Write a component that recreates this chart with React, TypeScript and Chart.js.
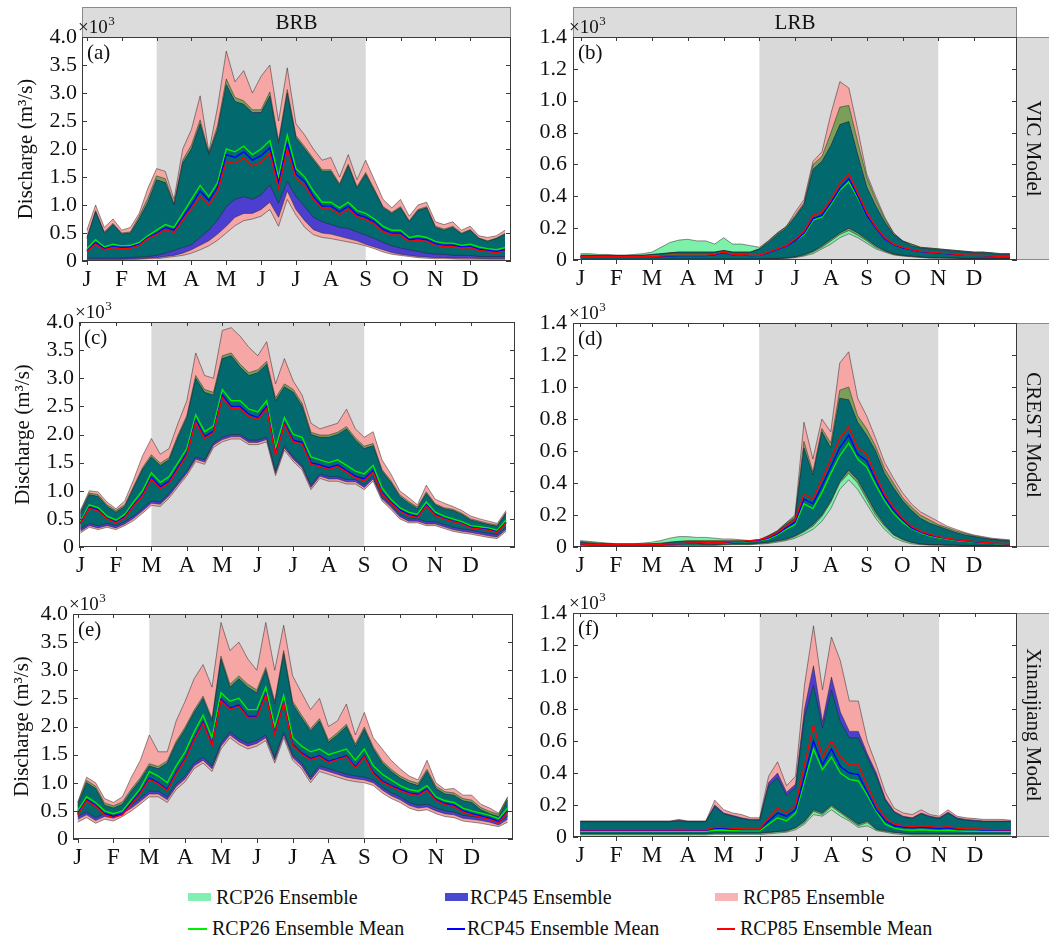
import React, { useEffect, useRef } from 'react';
import { Chart, registerables } from 'chart.js';

Chart.register(...registerables);

const FONT = "'Liberation Serif', 'Times New Roman', Times, serif";

// ---------- categories / ticks ----------
const MONTHS = ['J', 'F', 'M', 'A', 'M', 'J', 'J', 'A', 'S', 'O', 'N', 'D'];
const MONTH_POS = [0, 1, 2, 3, 4, 5, 6, 7, 8, 9, 10, 11];
const Y_TICKS_BRB = [0, 0.5, 1.0, 1.5, 2.0, 2.5, 3.0, 3.5, 4.0];
const Y_TICKS_LRB = [0, 0.2, 0.4, 0.6, 0.8, 1.0, 1.2, 1.4];
// sampling grid: 4 samples per month (month units, Jan 1 = 0)
const X = Array.from({ length: 49 }, (_, k) => k / 4);

const LEGEND_LABELS = ['RCP26 Ensemble', 'RCP45 Ensemble', 'RCP85 Ensemble', 'RCP26 Ensemble Mean', 'RCP45 Ensemble Mean', 'RCP85 Ensemble Mean'];

// ---------- (a) BRB / VIC  (x10^3 m3/s) ----------
const A_H85 = [0.55, 1.0, 0.6, 0.75, 0.55, 0.6, 0.85, 1.3, 1.65, 1.6, 1.1, 2.0, 2.35, 2.95, 1.95, 2.75, 3.75, 3.2, 3.4, 3.0, 3.3, 3.5, 2.5, 3.45, 2.45, 2.25, 2.0, 1.8, 1.85, 1.5, 1.9, 1.45, 1.8, 1.45, 1.1, 0.95, 1.1, 0.8, 1.0, 1.05, 0.7, 0.65, 0.7, 0.55, 0.62, 0.45, 0.42, 0.45, 0.55];
const A_H26 = [0.42, 0.9, 0.52, 0.67, 0.5, 0.52, 0.8, 1.12, 1.52, 1.47, 1.03, 1.8, 2.07, 2.52, 1.93, 2.42, 3.25, 2.92, 2.86, 2.7, 2.7, 3.02, 2.15, 3.06, 2.24, 2.04, 1.83, 1.63, 1.63, 1.38, 1.73, 1.33, 1.58, 1.28, 0.97, 0.87, 0.97, 0.72, 0.92, 0.97, 0.62, 0.57, 0.62, 0.5, 0.56, 0.41, 0.36, 0.41, 0.49];
const A_H45 = [0.4, 0.88, 0.5, 0.65, 0.48, 0.5, 0.75, 1.05, 1.45, 1.4, 1.0, 1.75, 2.0, 2.45, 1.9, 2.35, 3.15, 2.85, 2.8, 2.65, 2.65, 2.95, 2.1, 3.0, 2.2, 2.0, 1.8, 1.6, 1.6, 1.35, 1.7, 1.3, 1.55, 1.25, 0.95, 0.85, 0.95, 0.7, 0.9, 0.95, 0.6, 0.55, 0.6, 0.48, 0.55, 0.4, 0.35, 0.4, 0.48];
const A_L26 = [0.05, 0.05, 0.05, 0.05, 0.05, 0.06, 0.07, 0.08, 0.1, 0.14, 0.19, 0.24, 0.29, 0.42, 0.55, 0.73, 0.97, 1.1, 1.15, 1.1, 1.18, 1.36, 1.03, 1.42, 1.15, 0.97, 0.78, 0.7, 0.65, 0.6, 0.58, 0.52, 0.46, 0.4, 0.33, 0.27, 0.23, 0.2, 0.17, 0.14, 0.12, 0.12, 0.1, 0.1, 0.1, 0.08, 0.08, 0.08, 0.08];
const A_L45 = [0.03, 0.03, 0.03, 0.03, 0.03, 0.035, 0.04, 0.05, 0.06, 0.08, 0.1, 0.14, 0.2, 0.28, 0.36, 0.48, 0.62, 0.78, 0.85, 0.85, 0.92, 1.05, 0.78, 1.25, 0.92, 0.72, 0.56, 0.5, 0.48, 0.44, 0.4, 0.36, 0.3, 0.25, 0.2, 0.15, 0.12, 0.1, 0.08, 0.07, 0.06, 0.06, 0.05, 0.05, 0.05, 0.045, 0.04, 0.04, 0.04];
const A_L85 = [0.02, 0.02, 0.02, 0.02, 0.02, 0.025, 0.03, 0.035, 0.04, 0.06, 0.08, 0.1, 0.14, 0.2, 0.27, 0.37, 0.5, 0.63, 0.72, 0.75, 0.8, 0.92, 0.62, 1.1, 0.82, 0.6, 0.47, 0.42, 0.4, 0.37, 0.34, 0.31, 0.27, 0.22, 0.16, 0.12, 0.1, 0.08, 0.06, 0.05, 0.04, 0.04, 0.035, 0.03, 0.03, 0.03, 0.03, 0.03, 0.03];
const A_M26 = [0.22, 0.38, 0.25, 0.3, 0.27, 0.28, 0.33, 0.45, 0.55, 0.65, 0.6, 0.85, 1.1, 1.35, 1.15, 1.4, 2.0, 1.95, 2.05, 1.9, 2.0, 2.15, 1.5, 2.25, 1.65, 1.5, 1.25, 1.05, 1.05, 0.95, 1.05, 0.9, 0.85, 0.75, 0.62, 0.55, 0.55, 0.42, 0.45, 0.42, 0.35, 0.32, 0.32, 0.28, 0.3, 0.25, 0.22, 0.2, 0.24];
const A_M45 = [0.18, 0.33, 0.22, 0.26, 0.24, 0.25, 0.3, 0.42, 0.5, 0.6, 0.55, 0.78, 1.0, 1.25, 1.08, 1.32, 1.9, 1.85, 1.95, 1.8, 1.88, 2.02, 1.4, 2.1, 1.55, 1.42, 1.15, 0.98, 0.98, 0.88, 0.98, 0.83, 0.78, 0.7, 0.56, 0.5, 0.5, 0.38, 0.4, 0.38, 0.31, 0.28, 0.28, 0.25, 0.26, 0.21, 0.19, 0.17, 0.2];
const A_M85 = [0.17, 0.3, 0.2, 0.24, 0.22, 0.23, 0.28, 0.4, 0.47, 0.56, 0.51, 0.73, 0.93, 1.15, 1.0, 1.24, 1.78, 1.74, 1.84, 1.7, 1.76, 1.92, 1.3, 2.0, 1.47, 1.35, 1.1, 0.93, 0.93, 0.83, 0.93, 0.79, 0.74, 0.66, 0.52, 0.47, 0.46, 0.35, 0.37, 0.35, 0.28, 0.26, 0.26, 0.23, 0.24, 0.19, 0.17, 0.15, 0.18];

// ---------- (b) LRB / VIC ----------
const B_H85 = [0.03, 0.03, 0.03, 0.03, 0.03, 0.03, 0.03, 0.03, 0.035, 0.04, 0.045, 0.05, 0.05, 0.05, 0.05, 0.05, 0.06, 0.05, 0.05, 0.05, 0.07, 0.12, 0.17, 0.21, 0.3, 0.38, 0.62, 0.68, 0.92, 1.12, 1.08, 0.82, 0.54, 0.4, 0.27, 0.17, 0.12, 0.1, 0.08, 0.075, 0.07, 0.065, 0.06, 0.055, 0.05, 0.05, 0.045, 0.04, 0.04];
const B_H26 = [0.04, 0.04, 0.035, 0.035, 0.03, 0.03, 0.035, 0.04, 0.05, 0.08, 0.11, 0.125, 0.13, 0.12, 0.12, 0.1, 0.14, 0.1, 0.1, 0.09, 0.08, 0.12, 0.17, 0.21, 0.28, 0.36, 0.6, 0.65, 0.8, 0.96, 0.97, 0.74, 0.52, 0.38, 0.26, 0.17, 0.12, 0.1, 0.08, 0.075, 0.07, 0.065, 0.06, 0.055, 0.05, 0.05, 0.045, 0.04, 0.04];
const B_H45 = [0.03, 0.03, 0.028, 0.028, 0.028, 0.028, 0.028, 0.03, 0.035, 0.04, 0.045, 0.05, 0.05, 0.05, 0.05, 0.05, 0.06, 0.05, 0.05, 0.05, 0.07, 0.11, 0.16, 0.2, 0.27, 0.35, 0.57, 0.62, 0.72, 0.85, 0.87, 0.66, 0.46, 0.34, 0.24, 0.16, 0.12, 0.09, 0.075, 0.07, 0.065, 0.06, 0.055, 0.05, 0.045, 0.045, 0.04, 0.035, 0.035];
const B_L26 = [0.003, 0.003, 0.003, 0.003, 0.003, 0.003, 0.003, 0.003, 0.003, 0.003, 0.004, 0.004, 0.004, 0.004, 0.004, 0.004, 0.004, 0.004, 0.004, 0.004, 0.004, 0.006, 0.008, 0.01, 0.015, 0.025, 0.04, 0.07, 0.1, 0.14, 0.165, 0.14, 0.105, 0.07, 0.05, 0.032, 0.025, 0.02, 0.016, 0.012, 0.011, 0.01, 0.01, 0.008, 0.008, 0.008, 0.008, 0.008, 0.008];
const B_L45 = [0.005, 0.005, 0.005, 0.005, 0.005, 0.005, 0.005, 0.005, 0.005, 0.005, 0.006, 0.006, 0.006, 0.006, 0.006, 0.006, 0.006, 0.006, 0.006, 0.006, 0.006, 0.008, 0.01, 0.014, 0.02, 0.035, 0.055, 0.09, 0.13, 0.17, 0.2, 0.17, 0.13, 0.09, 0.06, 0.04, 0.03, 0.025, 0.02, 0.015, 0.015, 0.013, 0.012, 0.01, 0.01, 0.01, 0.01, 0.01, 0.01];
const B_L85 = [0.004, 0.004, 0.004, 0.004, 0.004, 0.004, 0.004, 0.004, 0.004, 0.004, 0.005, 0.005, 0.005, 0.005, 0.005, 0.005, 0.005, 0.005, 0.005, 0.005, 0.005, 0.007, 0.009, 0.012, 0.018, 0.03, 0.05, 0.08, 0.12, 0.16, 0.185, 0.155, 0.12, 0.08, 0.055, 0.035, 0.027, 0.022, 0.018, 0.014, 0.013, 0.012, 0.011, 0.009, 0.009, 0.009, 0.009, 0.009, 0.009];
const B_M26 = [0.02, 0.02, 0.02, 0.02, 0.02, 0.02, 0.02, 0.02, 0.022, 0.025, 0.03, 0.032, 0.032, 0.032, 0.032, 0.035, 0.045, 0.035, 0.033, 0.03, 0.028, 0.045, 0.065, 0.085, 0.12, 0.16, 0.25, 0.27, 0.35, 0.44, 0.49, 0.39, 0.28, 0.2, 0.13, 0.095, 0.075, 0.062, 0.052, 0.047, 0.042, 0.038, 0.033, 0.029, 0.028, 0.026, 0.023, 0.021, 0.02];
const B_M45 = [0.02, 0.02, 0.02, 0.02, 0.02, 0.02, 0.02, 0.02, 0.02, 0.022, 0.026, 0.028, 0.028, 0.028, 0.028, 0.032, 0.045, 0.032, 0.032, 0.028, 0.028, 0.045, 0.065, 0.085, 0.12, 0.17, 0.26, 0.28, 0.36, 0.45, 0.51, 0.4, 0.28, 0.2, 0.13, 0.095, 0.075, 0.062, 0.052, 0.047, 0.042, 0.038, 0.033, 0.029, 0.028, 0.026, 0.023, 0.021, 0.02];
const B_M85 = [0.02, 0.02, 0.02, 0.02, 0.02, 0.02, 0.02, 0.02, 0.02, 0.025, 0.03, 0.03, 0.03, 0.03, 0.03, 0.035, 0.05, 0.035, 0.035, 0.03, 0.03, 0.05, 0.07, 0.09, 0.13, 0.18, 0.28, 0.3, 0.38, 0.48, 0.54, 0.42, 0.3, 0.21, 0.14, 0.1, 0.08, 0.065, 0.055, 0.05, 0.045, 0.04, 0.035, 0.03, 0.03, 0.028, 0.025, 0.022, 0.02];

// ---------- (c) BRB / CREST ----------
const C_H85 = [0.65, 1.0, 0.98, 0.8, 0.68, 0.82, 1.2, 1.62, 1.93, 1.65, 1.75, 2.2, 2.6, 3.45, 3.05, 3.0, 3.85, 3.9, 3.75, 3.55, 3.4, 3.65, 2.9, 3.35, 2.95, 2.7, 2.2, 2.1, 2.15, 2.2, 2.45, 2.1, 1.95, 2.05, 1.55, 1.3, 1.0, 0.88, 0.75, 1.1, 0.85, 0.78, 0.72, 0.65, 0.55, 0.5, 0.46, 0.42, 0.65];
const C_H26 = [0.63, 0.96, 0.93, 0.75, 0.65, 0.75, 1.08, 1.41, 1.64, 1.49, 1.59, 1.99, 2.34, 3.05, 2.8, 2.75, 3.4, 3.45, 3.25, 3.1, 3.15, 3.3, 2.65, 2.9, 2.8, 2.55, 2.04, 1.99, 1.99, 2.04, 2.14, 1.94, 1.79, 1.84, 1.38, 1.18, 0.93, 0.81, 0.71, 0.98, 0.77, 0.7, 0.67, 0.6, 0.5, 0.46, 0.42, 0.39, 0.62];
const C_H45 = [0.6, 0.93, 0.9, 0.72, 0.62, 0.72, 1.05, 1.38, 1.6, 1.45, 1.55, 1.95, 2.3, 3.0, 2.75, 2.7, 3.35, 3.4, 3.2, 3.05, 3.1, 3.25, 2.6, 2.85, 2.75, 2.5, 2.0, 1.95, 1.95, 2.0, 2.1, 1.9, 1.75, 1.8, 1.35, 1.15, 0.9, 0.78, 0.68, 0.95, 0.75, 0.68, 0.65, 0.58, 0.48, 0.44, 0.4, 0.37, 0.6];
const C_L26 = [0.32, 0.42, 0.38, 0.42, 0.38, 0.45, 0.55, 0.68, 0.82, 0.8, 0.95, 1.15, 1.35, 1.6, 1.55, 1.85, 1.95, 2.0, 2.0, 1.9, 1.9, 1.95, 1.35, 1.8, 1.6, 1.45, 1.1, 1.3, 1.25, 1.25, 1.2, 1.2, 1.1, 1.25, 0.9, 0.75, 0.58, 0.5, 0.5, 0.45, 0.45, 0.4, 0.35, 0.32, 0.3, 0.27, 0.24, 0.22, 0.35];
const C_L45 = [0.28, 0.38, 0.34, 0.38, 0.34, 0.41, 0.51, 0.64, 0.78, 0.76, 0.91, 1.11, 1.31, 1.56, 1.51, 1.81, 1.91, 1.96, 1.96, 1.86, 1.86, 1.91, 1.31, 1.76, 1.56, 1.41, 1.06, 1.26, 1.21, 1.21, 1.16, 1.16, 1.06, 1.21, 0.86, 0.71, 0.54, 0.46, 0.46, 0.41, 0.41, 0.36, 0.31, 0.28, 0.26, 0.23, 0.2, 0.18, 0.31];
const C_L85 = [0.25, 0.35, 0.31, 0.35, 0.31, 0.38, 0.47, 0.6, 0.74, 0.72, 0.87, 1.07, 1.27, 1.52, 1.47, 1.77, 1.87, 1.92, 1.92, 1.82, 1.82, 1.87, 1.27, 1.72, 1.52, 1.37, 1.02, 1.22, 1.17, 1.17, 1.12, 1.12, 1.02, 1.17, 0.82, 0.67, 0.5, 0.43, 0.43, 0.38, 0.38, 0.33, 0.28, 0.25, 0.23, 0.2, 0.17, 0.15, 0.28];
const C_M26 = [0.45, 0.75, 0.7, 0.55, 0.48, 0.58, 0.8, 1.0, 1.32, 1.15, 1.25, 1.5, 1.75, 2.35, 2.05, 2.15, 2.8, 2.6, 2.6, 2.45, 2.4, 2.6, 1.75, 2.3, 2.0, 1.95, 1.6, 1.55, 1.5, 1.55, 1.45, 1.35, 1.3, 1.45, 1.05, 0.85, 0.7, 0.62, 0.58, 0.8, 0.62, 0.55, 0.5, 0.45, 0.38, 0.36, 0.34, 0.3, 0.48];
const C_M45 = [0.42, 0.71, 0.66, 0.51, 0.44, 0.54, 0.75, 0.93, 1.24, 1.07, 1.17, 1.42, 1.67, 2.26, 1.96, 2.06, 2.7, 2.5, 2.5, 2.36, 2.3, 2.5, 1.66, 2.2, 1.9, 1.86, 1.5, 1.46, 1.41, 1.46, 1.36, 1.26, 1.21, 1.36, 0.97, 0.8, 0.66, 0.58, 0.54, 0.75, 0.58, 0.51, 0.46, 0.42, 0.35, 0.33, 0.31, 0.27, 0.44];
const C_M85 = [0.41, 0.69, 0.64, 0.5, 0.43, 0.52, 0.73, 0.91, 1.21, 1.04, 1.14, 1.39, 1.64, 2.22, 1.93, 2.03, 2.66, 2.46, 2.46, 2.32, 2.27, 2.46, 1.63, 2.17, 1.87, 1.83, 1.47, 1.43, 1.38, 1.43, 1.33, 1.23, 1.18, 1.33, 0.95, 0.78, 0.64, 0.56, 0.52, 0.73, 0.56, 0.5, 0.45, 0.41, 0.34, 0.32, 0.3, 0.26, 0.43];

// ---------- (d) LRB / CREST ----------
const D_H85 = [0.035, 0.03, 0.025, 0.02, 0.02, 0.02, 0.02, 0.02, 0.02, 0.025, 0.03, 0.035, 0.04, 0.04, 0.04, 0.04, 0.04, 0.04, 0.04, 0.04, 0.045, 0.07, 0.1, 0.15, 0.2, 0.78, 0.55, 0.8, 0.72, 1.15, 1.22, 0.93, 0.82, 0.68, 0.53, 0.43, 0.34, 0.27, 0.22, 0.19, 0.16, 0.13, 0.11, 0.09, 0.075, 0.065, 0.055, 0.05, 0.045];
const D_H26 = [0.04, 0.035, 0.03, 0.025, 0.02, 0.02, 0.02, 0.025, 0.03, 0.04, 0.055, 0.065, 0.065, 0.06, 0.06, 0.055, 0.05, 0.05, 0.045, 0.04, 0.045, 0.07, 0.1, 0.15, 0.19, 0.66, 0.47, 0.74, 0.65, 0.98, 1.0, 0.82, 0.74, 0.63, 0.49, 0.4, 0.31, 0.25, 0.2, 0.17, 0.14, 0.12, 0.1, 0.085, 0.07, 0.06, 0.05, 0.045, 0.04];
const D_H45 = [0.03, 0.025, 0.02, 0.02, 0.018, 0.018, 0.018, 0.018, 0.02, 0.02, 0.03, 0.035, 0.035, 0.035, 0.035, 0.035, 0.035, 0.035, 0.035, 0.035, 0.04, 0.065, 0.095, 0.14, 0.18, 0.62, 0.45, 0.72, 0.62, 0.93, 0.92, 0.78, 0.7, 0.6, 0.46, 0.37, 0.29, 0.23, 0.18, 0.15, 0.13, 0.11, 0.09, 0.075, 0.065, 0.055, 0.048, 0.042, 0.038];
const D_L26 = [0.01, 0.009, 0.008, 0.007, 0.007, 0.007, 0.007, 0.007, 0.007, 0.007, 0.008, 0.01, 0.01, 0.01, 0.01, 0.01, 0.012, 0.014, 0.014, 0.014, 0.018, 0.022, 0.03, 0.04, 0.055, 0.08, 0.11, 0.16, 0.24, 0.36, 0.42, 0.36, 0.27, 0.18, 0.11, 0.06, 0.035, 0.02, 0.015, 0.012, 0.011, 0.01, 0.01, 0.008, 0.008, 0.008, 0.008, 0.008, 0.008];
const D_L45 = [0.015, 0.013, 0.012, 0.01, 0.01, 0.01, 0.01, 0.01, 0.01, 0.01, 0.012, 0.015, 0.015, 0.015, 0.015, 0.015, 0.018, 0.02, 0.02, 0.02, 0.025, 0.03, 0.04, 0.05, 0.07, 0.1, 0.14, 0.2, 0.29, 0.41, 0.48, 0.42, 0.32, 0.22, 0.14, 0.08, 0.05, 0.03, 0.02, 0.015, 0.015, 0.012, 0.012, 0.01, 0.01, 0.01, 0.01, 0.01, 0.01];
const D_L85 = [0.012, 0.011, 0.01, 0.009, 0.009, 0.009, 0.009, 0.009, 0.009, 0.009, 0.01, 0.012, 0.012, 0.012, 0.012, 0.012, 0.015, 0.017, 0.017, 0.017, 0.022, 0.027, 0.036, 0.045, 0.065, 0.095, 0.13, 0.19, 0.28, 0.4, 0.46, 0.4, 0.3, 0.2, 0.13, 0.075, 0.045, 0.028, 0.018, 0.014, 0.013, 0.011, 0.011, 0.009, 0.009, 0.009, 0.009, 0.009, 0.009];
const D_M26 = [0.017, 0.013, 0.013, 0.013, 0.013, 0.013, 0.013, 0.013, 0.013, 0.013, 0.016, 0.016, 0.02, 0.02, 0.025, 0.025, 0.025, 0.03, 0.03, 0.035, 0.04, 0.05, 0.075, 0.11, 0.14, 0.27, 0.24, 0.34, 0.46, 0.57, 0.65, 0.55, 0.5, 0.39, 0.29, 0.21, 0.155, 0.115, 0.09, 0.07, 0.058, 0.05, 0.041, 0.036, 0.031, 0.027, 0.023, 0.02, 0.018];
const D_M45 = [0.018, 0.014, 0.014, 0.014, 0.014, 0.014, 0.014, 0.014, 0.014, 0.014, 0.018, 0.018, 0.022, 0.022, 0.027, 0.027, 0.027, 0.032, 0.032, 0.037, 0.042, 0.055, 0.082, 0.12, 0.155, 0.3, 0.27, 0.38, 0.5, 0.62, 0.7, 0.58, 0.54, 0.42, 0.31, 0.23, 0.17, 0.12, 0.095, 0.075, 0.062, 0.052, 0.043, 0.038, 0.033, 0.028, 0.024, 0.021, 0.019];
const D_M85 = [0.02, 0.015, 0.015, 0.015, 0.015, 0.015, 0.015, 0.015, 0.015, 0.015, 0.02, 0.02, 0.025, 0.025, 0.03, 0.03, 0.03, 0.035, 0.035, 0.04, 0.045, 0.06, 0.09, 0.13, 0.17, 0.33, 0.3, 0.42, 0.55, 0.68, 0.75, 0.62, 0.58, 0.45, 0.33, 0.25, 0.18, 0.13, 0.1, 0.08, 0.065, 0.055, 0.045, 0.04, 0.035, 0.03, 0.025, 0.022, 0.02];

// ---------- (e) BRB / Xinanjiang ----------
const E_H85 = [0.65, 1.1, 1.0, 0.72, 0.65, 0.75, 1.1, 1.4, 1.85, 1.55, 1.55, 2.1, 2.45, 2.85, 3.1, 2.7, 3.85, 3.35, 3.5, 3.2, 3.0, 3.85, 3.0, 3.8, 2.9, 2.6, 2.3, 2.5, 2.0, 2.1, 2.4, 1.85, 2.25, 1.8, 1.6, 1.4, 1.25, 1.12, 1.05, 1.4, 1.0, 0.88, 0.9, 0.78, 0.78, 0.62, 0.55, 0.46, 0.75];
const E_H26 = [0.64, 1.04, 0.94, 0.64, 0.59, 0.66, 0.89, 1.09, 1.34, 1.29, 1.39, 1.74, 1.99, 2.29, 2.54, 2.14, 3.25, 2.75, 2.9, 2.75, 2.65, 3.05, 2.45, 3.35, 2.45, 2.2, 1.96, 2.14, 1.76, 1.89, 2.04, 1.69, 1.99, 1.64, 1.39, 1.24, 1.12, 1.04, 0.99, 1.24, 0.94, 0.84, 0.82, 0.72, 0.69, 0.56, 0.49, 0.44, 0.74];
const E_H45 = [0.6, 1.0, 0.9, 0.6, 0.55, 0.62, 0.85, 1.05, 1.3, 1.25, 1.35, 1.7, 1.95, 2.25, 2.5, 2.1, 3.2, 2.7, 2.85, 2.7, 2.6, 3.0, 2.4, 3.3, 2.4, 2.15, 1.92, 2.1, 1.72, 1.85, 2.0, 1.65, 1.95, 1.6, 1.35, 1.2, 1.08, 1.0, 0.95, 1.2, 0.9, 0.8, 0.78, 0.68, 0.65, 0.52, 0.45, 0.4, 0.7];
const E_L26 = [0.4, 0.48, 0.38, 0.45, 0.42, 0.5, 0.6, 0.72, 0.85, 0.85, 0.75, 0.98, 1.12, 1.35, 1.45, 1.3, 1.7, 1.9, 1.78, 1.7, 1.75, 1.85, 1.45, 1.9, 1.5, 1.35, 1.1, 1.3, 1.25, 1.2, 1.15, 1.12, 1.1, 1.05, 0.92, 0.82, 0.75, 0.65, 0.6, 0.62, 0.55, 0.5, 0.48, 0.42, 0.4, 0.38, 0.35, 0.3, 0.4];
const E_L45 = [0.35, 0.43, 0.33, 0.4, 0.37, 0.45, 0.55, 0.67, 0.8, 0.8, 0.7, 0.93, 1.07, 1.3, 1.4, 1.25, 1.65, 1.85, 1.73, 1.65, 1.7, 1.8, 1.4, 1.85, 1.45, 1.3, 1.05, 1.25, 1.2, 1.15, 1.1, 1.07, 1.05, 1.0, 0.87, 0.77, 0.7, 0.6, 0.55, 0.57, 0.5, 0.45, 0.43, 0.37, 0.35, 0.33, 0.3, 0.25, 0.35];
const E_L85 = [0.3, 0.38, 0.28, 0.35, 0.32, 0.4, 0.5, 0.62, 0.75, 0.75, 0.65, 0.88, 1.02, 1.25, 1.35, 1.2, 1.6, 1.8, 1.68, 1.6, 1.65, 1.75, 1.35, 1.8, 1.4, 1.25, 1.0, 1.2, 1.15, 1.1, 1.05, 1.02, 1.0, 0.95, 0.82, 0.72, 0.65, 0.55, 0.5, 0.52, 0.45, 0.4, 0.38, 0.32, 0.3, 0.28, 0.25, 0.22, 0.3];
const E_M26 = [0.5, 0.75, 0.65, 0.5, 0.45, 0.5, 0.7, 0.9, 1.2, 1.12, 1.0, 1.3, 1.55, 1.9, 2.2, 1.8, 2.6, 2.45, 2.5, 2.3, 2.3, 2.7, 2.0, 2.55, 1.8, 1.65, 1.55, 1.6, 1.5, 1.55, 1.6, 1.4, 1.6, 1.3, 1.15, 1.05, 0.95, 0.88, 0.85, 0.95, 0.75, 0.68, 0.65, 0.55, 0.5, 0.46, 0.42, 0.36, 0.55];
const E_M45 = [0.45, 0.7, 0.6, 0.45, 0.4, 0.45, 0.64, 0.83, 1.08, 1.0, 0.88, 1.18, 1.43, 1.78, 2.08, 1.68, 2.48, 2.33, 2.38, 2.18, 2.18, 2.58, 1.88, 2.43, 1.68, 1.53, 1.43, 1.48, 1.38, 1.43, 1.48, 1.28, 1.48, 1.18, 1.03, 0.95, 0.88, 0.82, 0.79, 0.89, 0.7, 0.63, 0.6, 0.5, 0.45, 0.41, 0.37, 0.31, 0.5];
const E_M85 = [0.43, 0.68, 0.58, 0.43, 0.38, 0.43, 0.62, 0.81, 1.06, 0.98, 0.86, 1.16, 1.41, 1.76, 2.06, 1.66, 2.46, 2.31, 2.36, 2.16, 2.16, 2.56, 1.86, 2.41, 1.66, 1.51, 1.41, 1.46, 1.36, 1.41, 1.46, 1.26, 1.46, 1.16, 1.01, 0.93, 0.86, 0.8, 0.77, 0.87, 0.68, 0.61, 0.58, 0.48, 0.43, 0.39, 0.35, 0.29, 0.48];

// ---------- (f) LRB / Xinanjiang ----------
const F_H85 = [0.1, 0.1, 0.1, 0.1, 0.1, 0.1, 0.1, 0.1, 0.1, 0.1, 0.1, 0.11, 0.1, 0.1, 0.1, 0.23, 0.17, 0.15, 0.14, 0.12, 0.12, 0.38, 0.47, 0.32, 0.38, 0.95, 1.32, 0.92, 1.25, 1.1, 0.85, 0.85, 0.6, 0.45, 0.28, 0.18, 0.15, 0.14, 0.17, 0.14, 0.13, 0.17, 0.13, 0.12, 0.115, 0.11, 0.11, 0.11, 0.105];
const F_H26 = [0.095, 0.095, 0.095, 0.095, 0.095, 0.095, 0.095, 0.095, 0.095, 0.095, 0.095, 0.1, 0.095, 0.095, 0.095, 0.19, 0.145, 0.13, 0.115, 0.105, 0.105, 0.32, 0.37, 0.26, 0.31, 0.75, 0.95, 0.68, 0.92, 0.72, 0.62, 0.62, 0.5, 0.38, 0.23, 0.155, 0.125, 0.115, 0.145, 0.125, 0.115, 0.15, 0.115, 0.105, 0.1, 0.097, 0.097, 0.097, 0.097];
const F_H45 = [0.098, 0.098, 0.098, 0.098, 0.098, 0.098, 0.098, 0.098, 0.098, 0.098, 0.098, 0.105, 0.098, 0.098, 0.098, 0.2, 0.15, 0.135, 0.12, 0.11, 0.11, 0.34, 0.4, 0.28, 0.33, 0.8, 1.07, 0.72, 1.0, 0.78, 0.66, 0.66, 0.52, 0.4, 0.24, 0.16, 0.13, 0.12, 0.15, 0.13, 0.12, 0.155, 0.12, 0.11, 0.105, 0.1, 0.1, 0.1, 0.1];
const F_L26 = [0.012, 0.012, 0.012, 0.012, 0.012, 0.012, 0.012, 0.012, 0.012, 0.012, 0.012, 0.012, 0.012, 0.012, 0.012, 0.015, 0.015, 0.015, 0.015, 0.015, 0.015, 0.02, 0.025, 0.03, 0.045, 0.08, 0.14, 0.13, 0.17, 0.13, 0.1, 0.06, 0.07, 0.04, 0.03, 0.02, 0.015, 0.012, 0.012, 0.012, 0.012, 0.012, 0.012, 0.012, 0.012, 0.012, 0.012, 0.012, 0.012];
const F_L45 = [0.02, 0.02, 0.02, 0.02, 0.02, 0.02, 0.02, 0.02, 0.02, 0.02, 0.02, 0.02, 0.02, 0.02, 0.02, 0.025, 0.025, 0.025, 0.025, 0.025, 0.025, 0.03, 0.035, 0.04, 0.06, 0.1, 0.17, 0.15, 0.2, 0.16, 0.12, 0.08, 0.1, 0.05, 0.04, 0.03, 0.025, 0.02, 0.02, 0.02, 0.02, 0.02, 0.02, 0.02, 0.02, 0.02, 0.02, 0.02, 0.02];
const F_L85 = [0.018, 0.018, 0.018, 0.018, 0.018, 0.018, 0.018, 0.018, 0.018, 0.018, 0.018, 0.018, 0.018, 0.018, 0.018, 0.022, 0.022, 0.022, 0.022, 0.022, 0.022, 0.027, 0.032, 0.036, 0.055, 0.09, 0.16, 0.14, 0.19, 0.15, 0.11, 0.07, 0.09, 0.045, 0.035, 0.027, 0.022, 0.018, 0.018, 0.018, 0.018, 0.018, 0.018, 0.018, 0.018, 0.018, 0.018, 0.018, 0.018];
const F_M26 = [0.035, 0.035, 0.035, 0.035, 0.035, 0.035, 0.035, 0.035, 0.035, 0.035, 0.035, 0.036, 0.035, 0.035, 0.035, 0.042, 0.042, 0.04, 0.038, 0.038, 0.038, 0.08, 0.12, 0.1, 0.15, 0.35, 0.55, 0.42, 0.5, 0.4, 0.36, 0.35, 0.26, 0.16, 0.08, 0.055, 0.045, 0.042, 0.045, 0.042, 0.04, 0.042, 0.038, 0.036, 0.036, 0.035, 0.035, 0.035, 0.035];
const F_M45 = [0.042, 0.042, 0.042, 0.042, 0.042, 0.042, 0.042, 0.042, 0.042, 0.042, 0.042, 0.044, 0.042, 0.042, 0.042, 0.055, 0.055, 0.05, 0.046, 0.046, 0.046, 0.1, 0.15, 0.13, 0.17, 0.38, 0.6, 0.45, 0.55, 0.44, 0.4, 0.39, 0.28, 0.17, 0.1, 0.07, 0.062, 0.058, 0.062, 0.058, 0.054, 0.058, 0.05, 0.046, 0.046, 0.044, 0.043, 0.042, 0.042];
const F_M85 = [0.045, 0.045, 0.045, 0.045, 0.045, 0.045, 0.045, 0.045, 0.045, 0.045, 0.045, 0.047, 0.045, 0.045, 0.045, 0.06, 0.06, 0.055, 0.05, 0.05, 0.05, 0.12, 0.18, 0.15, 0.2, 0.45, 0.7, 0.5, 0.6, 0.5, 0.45, 0.45, 0.32, 0.2, 0.12, 0.08, 0.07, 0.065, 0.07, 0.065, 0.06, 0.065, 0.055, 0.05, 0.05, 0.048, 0.046, 0.045, 0.045];

// ---------- styling ----------
const COL = {
  pink: '#f7a6a6',
  green: '#7df0aa',
  olive: '#7b9f58',
  blue: '#4c3fd0',
  teal: '#02696e',
  edge: 'rgba(35,35,35,0.7)',
  mean26: '#00ee00',
  mean45: '#0000ff',
  mean85: '#ff0000',
  shade: '#d9d9d9',
  strip: '#dcdcdc',
};
const FS = { yTick: 22, xTick: 23, title: 21, strip: 21, label: 21, legend: 20 };

type Series = { h85: number[]; h26: number[]; h45: number[]; l26: number[]; l45: number[]; l85: number[]; m26: number[]; m45: number[]; m85: number[] };
type Spec = {
  label: string; header?: string; side?: string;
  left: number; top: number; right: number; bottom: number;
  xMin: number; xMax: number; yMax: number; yTicks: number[]; wet: [number, number];
  yTitleX?: number; yAxisW: number; yPad: number; s: Series;
};

const PANELS: Spec[] = [
  { label: '(a)', header: 'BRB', left: 82, top: 37, right: 511, bottom: 261, xMin: -0.14, xMax: 12.17, yMax: 4, yTicks: Y_TICKS_BRB, wet: [2, 8], yTitleX: 26, yAxisW: 82, yPad: 5,
    s: { h85: A_H85, h26: A_H26, h45: A_H45, l26: A_L26, l45: A_L45, l85: A_L85, m26: A_M26, m45: A_M45, m85: A_M85 } },
  { label: '(b)', header: 'LRB', side: 'VIC Model', left: 573, top: 37, right: 1017, bottom: 260, xMin: -0.21, xMax: 12.2, yMax: 1.4, yTicks: Y_TICKS_LRB, wet: [5, 10], yAxisW: 60, yPad: 6,
    s: { h85: B_H85, h26: B_H26, h45: B_H45, l26: B_L26, l45: B_L45, l85: B_L85, m26: B_M26, m45: B_M45, m85: B_M85 } },
  { label: '(c)', left: 79, top: 322, right: 515, bottom: 547, xMin: -0.04, xMax: 12.25, yMax: 4, yTicks: Y_TICKS_BRB, wet: [2, 8], yTitleX: 23, yAxisW: 79, yPad: 5,
    s: { h85: C_H85, h26: C_H26, h45: C_H45, l26: C_L26, l45: C_L45, l85: C_L85, m26: C_M26, m45: C_M45, m85: C_M85 } },
  { label: '(d)', side: 'CREST Model', left: 573, top: 323, right: 1017, bottom: 547, xMin: -0.2, xMax: 12.2, yMax: 1.4, yTicks: Y_TICKS_LRB, wet: [5, 10], yAxisW: 60, yPad: 6,
    s: { h85: D_H85, h26: D_H26, h45: D_H45, l26: D_L26, l45: D_L45, l85: D_L85, m26: D_M26, m45: D_M45, m85: D_M85 } },
  { label: '(e)', left: 73, top: 614, right: 513, bottom: 839, xMin: -0.13, xMax: 12.15, yMax: 4, yTicks: Y_TICKS_BRB, wet: [2, 8], yTitleX: 22, yAxisW: 73, yPad: 5,
    s: { h85: E_H85, h26: E_H26, h45: E_H45, l26: E_L26, l45: E_L45, l85: E_L85, m26: E_M26, m45: E_M45, m85: E_M85 } },
  { label: '(f)', side: 'Xinanjiang Model', left: 573, top: 613, right: 1017, bottom: 837, xMin: -0.2, xMax: 12.17, yMax: 1.4, yTicks: Y_TICKS_LRB, wet: [5, 10], yAxisW: 60, yPad: 6,
    s: { h85: F_H85, h26: F_H26, h45: F_H45, l26: F_L26, l45: F_L45, l85: F_L85, m26: F_M26, m45: F_M45, m85: F_M85 } },
];

const X_AXIS_H = 38;

function buildDatasets(s: Series) {
  const pts = (arr: number[]) => arr.map((v, i) => ({ x: X[i], y: v }));
  // overlap regions derived from the ensemble envelopes
  const loGP = s.l26.map((v, i) => Math.max(v, s.l85[i]));
  const hiGP = s.h26.map((v, i) => Math.max(loGP[i], Math.min(v, s.h85[i])));
  const loAll = s.l26.map((v, i) => Math.max(v, s.l45[i], s.l85[i]));
  const hiAll = s.h26.map((v, i) => Math.max(loAll[i], Math.min(v, s.h45[i], s.h85[i])));
  const list: any[] = [];
  const band = (lo: number[], hi: number[], color: string) => {
    const iLo = list.length;
    list.push({ data: pts(lo), borderWidth: 0, borderColor: 'rgba(0,0,0,0)', fill: false, pointRadius: 0 });
    list.push({ data: pts(hi), borderWidth: 0, borderColor: 'rgba(0,0,0,0)', backgroundColor: color, fill: iLo, pointRadius: 0 });
  };
  band(s.l85, s.h85, COL.pink);
  band(s.l26, s.h26, COL.green);
  band(loGP, hiGP, COL.olive);
  band(s.l45, s.h45, COL.blue);
  band(loAll, hiAll, COL.teal);
  [s.h85, s.l85, s.h26, s.l26, s.h45, s.l45].forEach((arr) => {
    list.push({ data: pts(arr), borderColor: COL.edge, borderWidth: 0.7, fill: false, pointRadius: 0 });
  });
  list.push({ data: pts(s.m26), borderColor: COL.mean26, borderWidth: 1.4, fill: false, pointRadius: 0 });
  list.push({ data: pts(s.m45), borderColor: COL.mean45, borderWidth: 1.4, fill: false, pointRadius: 0 });
  list.push({ data: pts(s.m85), borderColor: COL.mean85, borderWidth: 1.4, fill: false, pointRadius: 0 });
  list.forEach((d, i) => { d.order = list.length - i; d.tension = 0; });
  return list;
}

function makeDecor(spec: Spec) {
  return {
    id: 'decor',
    beforeDatasetsDraw(chart: any) {
      const { ctx, chartArea: ca } = chart;
      const xs = chart.scales.x;
      const x0 = xs.getPixelForValue(spec.wet[0]);
      const x1 = xs.getPixelForValue(spec.wet[1]);
      ctx.save();
      ctx.fillStyle = COL.shade;
      ctx.fillRect(x0, ca.top, x1 - x0, ca.bottom - ca.top);
      ctx.restore();
    },
    afterDraw(chart: any) {
      const { ctx, chartArea: ca } = chart;
      const xs = chart.scales.x;
      const ys = chart.scales.y;
      const L = Math.round(ca.left), T = Math.round(ca.top), R = Math.round(ca.right), B = Math.round(ca.bottom);
      ctx.save();
      ctx.font = `${FS.strip}px ${FONT}`;
      if (spec.header) {
        ctx.fillStyle = COL.strip;
        ctx.fillRect(L, T - 30, R - L, 30);
        ctx.strokeStyle = '#8a8a8a';
        ctx.lineWidth = 1;
        ctx.strokeRect(L + 0.5, T - 30 + 0.5, R - L - 1, 30);
        ctx.fillStyle = '#111';
        ctx.textAlign = 'center';
        ctx.textBaseline = 'middle';
        ctx.fillText(spec.header, (L + R) / 2, T - 14);
      }
      if (spec.side) {
        const sw = chart.width - R;
        ctx.fillStyle = COL.strip;
        ctx.fillRect(R, T, sw, B - T);
        ctx.strokeStyle = '#8a8a8a';
        ctx.lineWidth = 1;
        ctx.beginPath();
        ctx.moveTo(R, T + 0.5); ctx.lineTo(R + sw, T + 0.5);
        ctx.moveTo(R, B - 0.5); ctx.lineTo(R + sw, B - 0.5);
        ctx.stroke();
        ctx.save();
        ctx.translate(R + 16, (T + B) / 2);
        ctx.rotate(Math.PI / 2);
        ctx.fillStyle = '#111';
        ctx.textAlign = 'center';
        ctx.textBaseline = 'middle';
        ctx.fillText(spec.side, 0, 0);
        ctx.restore();
      }
      // axes box
      ctx.strokeStyle = '#3a3a3a';
      ctx.lineWidth = 1;
      ctx.strokeRect(L + 0.5, T + 0.5, R - L - 1, B - T - 1);
      // tick marks
      ctx.beginPath();
      MONTH_POS.forEach((m) => {
        const px = Math.round(xs.getPixelForValue(m)) + 0.5;
        ctx.moveTo(px, B); ctx.lineTo(px, B + 4);
        ctx.moveTo(px, T); ctx.lineTo(px, T + 4);
      });
      spec.yTicks.forEach((v) => {
        const py = Math.round(ys.getPixelForValue(v)) + 0.5;
        ctx.moveTo(L, py); ctx.lineTo(L + 5, py);
        ctx.moveTo(R - 5, py); ctx.lineTo(R, py);
      });
      ctx.stroke();
      // panel label
      ctx.fillStyle = '#111';
      ctx.textAlign = 'left';
      ctx.textBaseline = 'top';
      ctx.font = `${FS.label}px ${FONT}`;
      ctx.fillText(spec.label, L + 5, T + 6);
      // exponent label
      ctx.textBaseline = 'alphabetic';
      ctx.font = `19px ${FONT}`;
      const base = '×10';
      ctx.fillText(base, L - 4, T - 4);
      const bw = ctx.measureText(base).width;
      ctx.font = `13px ${FONT}`;
      ctx.fillText('3', L - 4 + bw + 0.5, T - 12);
      ctx.restore();
    },
  };
}

function Panel({ spec }: { spec: Spec }) {
  const ref = useRef<HTMLCanvasElement>(null);
  const cLeft = spec.left - spec.yAxisW;
  const cTop = spec.header ? spec.top - 37 : spec.top - 28;
  const padTop = spec.top - cTop;
  const padRight = spec.side ? 1049 - spec.right : 6;
  const w = spec.right + padRight - cLeft;
  const h = spec.bottom + X_AXIS_H - cTop;

  useEffect(() => {
    if (!ref.current) return;
    const chart = new Chart(ref.current, {
      type: 'line',
      data: { datasets: buildDatasets(spec.s) },
      options: {
        animation: false,
        responsive: false,
        maintainAspectRatio: false,
        events: [],
        layout: { padding: { top: padTop, right: padRight, left: 0, bottom: 0 } },
        elements: { point: { radius: 0 }, line: { tension: 0 } },
        plugins: {
          legend: { display: false },
          tooltip: { enabled: false },
          filler: { propagate: false, drawTime: 'beforeDatasetDraw' },
        },
        scales: {
          x: {
            type: 'linear',
            min: spec.xMin,
            max: spec.xMax,
            afterBuildTicks: (s: any) => { s.ticks = MONTH_POS.map((v) => ({ value: v })); },
            afterFit: (s: any) => { s.height = X_AXIS_H; },
            grid: { display: false, drawTicks: false },
            border: { display: false },
            ticks: {
              autoSkip: false, maxRotation: 0, minRotation: 0, padding: 5, color: '#111',
              font: { family: FONT, size: FS.xTick },
              callback: (v: any) => MONTHS[Math.round(Number(v))] ?? '',
            },
          },
          y: {
            type: 'linear',
            min: 0,
            max: spec.yMax,
            afterBuildTicks: (s: any) => { s.ticks = spec.yTicks.map((v) => ({ value: v })); },
            afterFit: (s: any) => { s.width = spec.yAxisW; },
            grid: { display: false, drawTicks: false },
            border: { display: false },
            ticks: {
              autoSkip: false, padding: spec.yPad, color: '#111',
              font: { family: FONT, size: FS.yTick },
              callback: (v: any) => (Number(v) === 0 ? '0' : Number(v).toFixed(1)),
            },
            title: spec.yTitleX !== undefined
              ? { display: true, text: 'Discharge (m³/s)', color: '#111', font: { family: FONT, size: FS.title }, padding: { top: spec.yTitleX - FS.title * 0.6 - cLeft, bottom: 0 } }
              : { display: false },
          },
        },
      } as any,
      plugins: [makeDecor(spec)],
    });
    return () => chart.destroy();
  }, [spec]);

  return (
    <canvas
      ref={ref}
      width={w}
      height={h}
      style={{ position: 'absolute', left: cLeft, top: cTop, width: w, height: h }}
    />
  );
}

function Legend() {
  const textStyle: React.CSSProperties = { position: 'absolute', font: `${FS.legend}px ${FONT}`, lineHeight: '24px', color: '#111', whiteSpace: 'nowrap' };
  return (
    <>
      <div style={{ position: 'absolute', left: 188, top: 893, width: 23, height: 8, background: '#84efb2' }} />
      <div style={{ ...textStyle, left: 216, top: 885 }}>{LEGEND_LABELS[0]}</div>
      <div style={{ position: 'absolute', left: 445, top: 893, width: 23, height: 8, background: '#4848d0' }} />
      <div style={{ ...textStyle, left: 470, top: 885 }}>{LEGEND_LABELS[1]}</div>
      <div style={{ position: 'absolute', left: 715, top: 893, width: 23, height: 8, background: '#f8b4b4' }} />
      <div style={{ ...textStyle, left: 743, top: 885 }}>{LEGEND_LABELS[2]}</div>

      <div style={{ position: 'absolute', left: 188, top: 928, width: 19, height: 2, background: COL.mean26 }} />
      <div style={{ ...textStyle, left: 212, top: 916 }}>{LEGEND_LABELS[3]}</div>
      <div style={{ position: 'absolute', left: 447, top: 928, width: 18, height: 2, background: COL.mean45 }} />
      <div style={{ ...textStyle, left: 467, top: 916 }}>{LEGEND_LABELS[4]}</div>
      <div style={{ position: 'absolute', left: 717, top: 928, width: 18, height: 2, background: COL.mean85 }} />
      <div style={{ ...textStyle, left: 740, top: 916 }}>{LEGEND_LABELS[5]}</div>
    </>
  );
}

export default function App() {
  return (
    <div style={{ position: 'absolute', left: 0, top: 0, width: 1049, height: 939, overflow: 'hidden', background: '#fff', fontFamily: FONT }}>
      {PANELS.map((p) => (
        <Panel key={p.label} spec={p} />
      ))}
      <Legend />
    </div>
  );
}
